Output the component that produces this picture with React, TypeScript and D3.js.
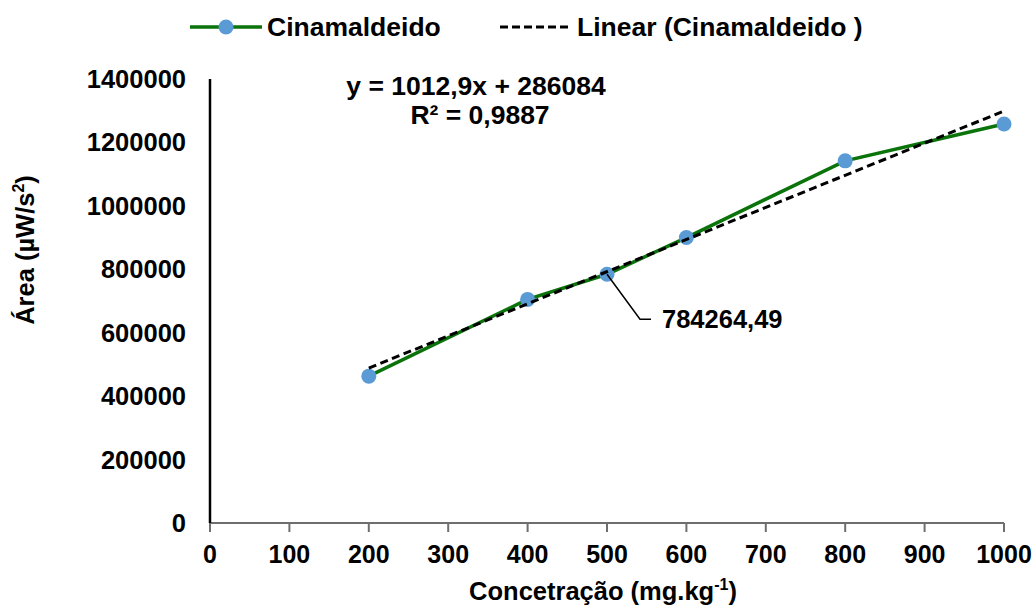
import React from "react";
import * as d3 from "d3";

const concentrations = [200, 400, 500, 600, 800, 1000];
const areas = [463000, 705000, 784264.49, 900000, 1142000, 1258000];
const xTicks = [0, 100, 200, 300, 400, 500, 600, 700, 800, 900, 1000];
const yTicks = [0, 200000, 400000, 600000, 800000, 1000000, 1200000, 1400000];
const trendSlope = 1012.9;
const trendIntercept = 286084;
const trendRange = [200, 1000];
const annotatedIndex = 2;
const annotationText = "784264,49";
const equationLines = ["y = 1012,9x + 286084", "R² = 0,9887"];
const seriesName = "Cinamaldeido";
const trendName = "Linear (Cinamaldeido )";

const W = 1035;
const H = 612;
const FONT = "'Liberation Sans', Arial, Helvetica, sans-serif";
const GREEN = "#0a730a";
const BLUE = "#5b9bd5";

export default function App() {
  const x = d3.scaleLinear().domain([0, 1000]).range([210, 1004]);
  const y = d3.scaleLinear().domain([0, 1400000]).range([523, 79]);
  const line = d3
    .line<number>()
    .x((_, i) => x(concentrations[i]))
    .y((d) => y(d));
  const trend = d3
    .line<number>()
    .x((d) => x(d))
    .y((d) => y(trendSlope * d + trendIntercept));

  const ax = x(concentrations[annotatedIndex]);
  const ay = y(areas[annotatedIndex]);

  return (
    <svg
      width={W}
      height={H}
      style={{ position: "absolute", left: 0, top: 0, background: "#fff" }}
      fontFamily={FONT}
      fontWeight="bold"
    >
      <rect x={0} y={0} width={W} height={H} fill="#fff" />
      {/* legend */}
      <line x1={190} x2={262} y1={27} y2={27} stroke={GREEN} strokeWidth={3.5} />
      <circle cx={226} cy={27} r={7.5} fill={BLUE} />
      <text x={267} y={36} fontSize={26.5} fill="#000">{seriesName}</text>
      <line x1={500} x2={568} y1={27} y2={27} stroke="#000" strokeWidth={3} strokeDasharray="8,4" />
      <text x={577} y={36} fontSize={26.5} fill="#000">{trendName}</text>

      {/* axes */}
      <line x1={210} x2={1004} y1={y(0)} y2={y(0)} stroke="#6e6e6e" strokeWidth={2} />
      {xTicks.map((t) => (
        <g key={t}>
          <line x1={x(t)} x2={x(t)} y1={y(0)} y2={y(0) + 9} stroke="#6e6e6e" strokeWidth={2} />
          <text x={x(t)} y={563} textAnchor="middle" fontSize={25} fill="#000">
            {t}
          </text>
        </g>
      ))}
      <line x1={210} x2={210} y1={y(1400000)} y2={y(0)} stroke="#000" strokeWidth={2.5} />
      {yTicks.map((t) => (
        <text key={t} x={186} y={y(t) + 9} textAnchor="end" fontSize={25.5} fill="#000">
          {t}
        </text>
      ))}

      {/* axis titles */}
      <text x={603} y={600} textAnchor="middle" fontSize={25.5} fill="#000">
        Concetração (mg.kg
        <tspan fontSize={16} dy={-10}>-1</tspan>
        <tspan dy={10}>)</tspan>
      </text>
      <text transform="translate(34,250) rotate(-90)" textAnchor="middle" fontSize={25.5} fill="#000">
        Área (µW/s
        <tspan fontSize={16} dy={-10}>2</tspan>
        <tspan dy={10}>)</tspan>
      </text>

      {/* series */}
      <path d={line(areas) || ""} fill="none" stroke={GREEN} strokeWidth={3.5} />
      {areas.map((v, i) => (
        <circle key={i} cx={x(concentrations[i])} cy={y(v)} r={7.5} fill={BLUE} />
      ))}
      {/* trend */}
      <path d={trend(trendRange) || ""} fill="none" stroke="#000" strokeWidth={3} strokeDasharray="8,4.5" />

      {/* annotation */}
      <polyline
        points={`${ax},${ay} ${ax + 33},${ay + 45} ${ax + 44},${ay + 45}`}
        fill="none"
        stroke="#000"
        strokeWidth={1.5}
      />
      <text x={662} y={ay + 54} fontSize={25.5} fill="#000">{annotationText}</text>

      {/* equation */}
      <text x={476} y={95} textAnchor="middle" fontSize={26.5} fill="#000">{equationLines[0]}</text>
      <text x={480} y={124} textAnchor="middle" fontSize={26.5} fill="#000">{equationLines[1]}</text>
    </svg>
  );
}
